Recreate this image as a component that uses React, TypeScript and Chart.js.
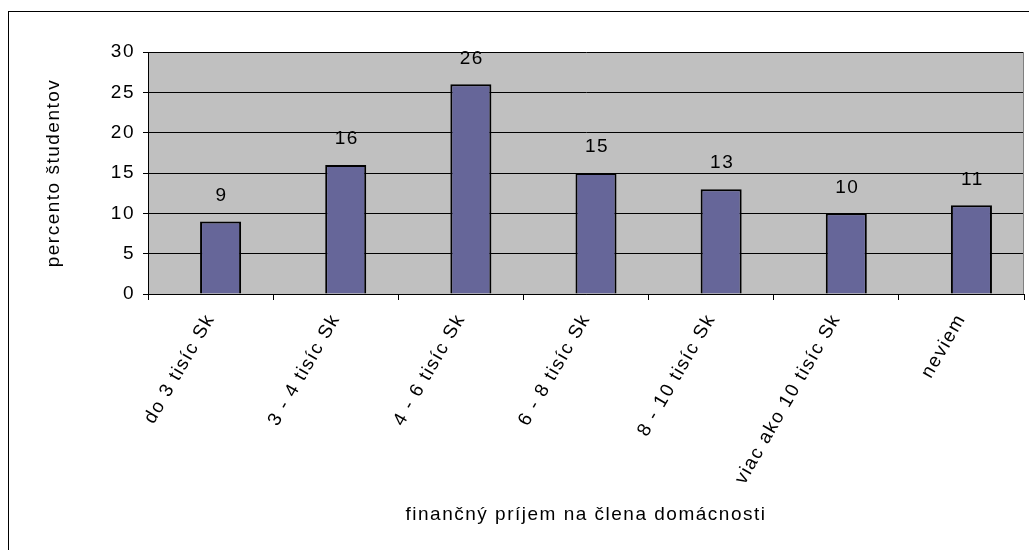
import React, { useEffect, useRef } from "react";
import { Chart, registerables } from "chart.js";

Chart.register(...registerables);

const categories = [
  "do 3 tisíc Sk",
  "3 - 4 tisíc Sk",
  "4 - 6 tisíc Sk",
  "6 - 8 tisíc Sk",
  "8 - 10 tisíc Sk",
  "viac ako 10 tisíc Sk",
  "neviem",
];
const values = [9, 16, 26, 15, 13, 10, 11];
// empty leading series (Excel-style layout shifts the visible bar right of the category centre)
const emptySeries = [null, null, null, null, null, null, null];
const yTicks = [0, 5, 10, 15, 20, 25, 30];
const xTitle = "finančný príjem na člena domácnosti";
const yTitle = "percento študentov";

const FONT = "'Liberation Sans', Arial, sans-serif";
const SPACING = "1.5px";
const FS = 19;

const framePlugin = {
  id: "frame",
  beforeInit(chart: any) {
    chart.ctx.letterSpacing = SPACING;
  },
  beforeDraw(chart: any) {
    const { ctx, chartArea } = chart;
    ctx.letterSpacing = SPACING;
    ctx.save();
    ctx.fillStyle = "#ffffff";
    ctx.fillRect(0, 0, chart.width, chart.height);
    ctx.strokeStyle = "#000000";
    ctx.lineWidth = 1;
    ctx.strokeRect(8.5, 11.5, chart.width + 10, chart.height + 10);
    ctx.fillStyle = "#C0C0C0";
    ctx.fillRect(chartArea.left, chartArea.top, chartArea.right - chartArea.left, chartArea.bottom - chartArea.top);
    ctx.restore();
  },
  afterDatasetsDraw(chart: any) {
    const { ctx, chartArea } = chart;
    ctx.save();
    ctx.strokeStyle = "#808080";
    ctx.lineWidth = 1;
    ctx.beginPath();
    ctx.moveTo(Math.round(chartArea.right) - 0.5, chartArea.top);
    ctx.lineTo(Math.round(chartArea.right) - 0.5, chartArea.bottom);
    ctx.stroke();
    const meta = chart.getDatasetMeta(1);
    ctx.fillStyle = "#000000";
    ctx.font = `${FS}px ${FONT}`;
    ctx.textAlign = "center";
    ctx.textBaseline = "middle";
    meta.data.forEach((bar: any, i: number) => {
      ctx.fillText(String(values[i]), bar.x + 1, bar.y - 26);
    });
    ctx.restore();
  },
};

export default function App() {
  const ref = useRef<HTMLCanvasElement>(null);
  useEffect(() => {
    document.body.style.margin = "0";
    const chart = new Chart(ref.current!, {
      type: "bar",
      data: {
        labels: categories,
        datasets: [
          {
            data: emptySeries,
            backgroundColor: "#666699",
            categoryPercentage: 0.32,
            barPercentage: 2.05,
          },
          {
            data: values,
            backgroundColor: "#666699",
            borderColor: "#000000",
            borderWidth: 2,
            categoryPercentage: 0.32,
            barPercentage: 2.05,
          },
        ],
      },
      options: {
        animation: false,
        responsive: false,
        events: [],
        layout: { padding: { top: 52, left: 38, right: 5, bottom: 20 } },
        plugins: { legend: { display: false }, tooltip: { enabled: false }, title: { display: false } },
        scales: {
          x: {
            offset: true,
            grid: {
              offset: true,
              drawOnChartArea: false,
              drawTicks: true,
              tickLength: 6,
              color: "#000000",
            },
            border: { color: "#000000", width: 1 },
            ticks: {
              color: "#000000",
              font: { family: FONT, size: FS },
              minRotation: 60,
              maxRotation: 60,
              padding: 10,
              autoSkip: false,
            },
            title: {
              display: true,
              text: xTitle,
              color: "#000000",
              font: { family: FONT, size: FS },
              padding: { top: 4, bottom: 4 },
            },
            afterFit(scale: any) {
              scale.height = 236;
            },
          },
          y: {
            min: 0,
            max: 30,
            afterBuildTicks(scale: any) {
              scale.ticks = yTicks.map((v) => ({ value: v }));
            },
            grid: { color: "#000000", tickLength: 5, drawTicks: true },
            border: { color: "#000000", width: 1 },
            ticks: {
              color: "#000000",
              font: { family: FONT, size: FS },
              padding: 8,
            },
            title: {
              display: true,
              text: yTitle,
              color: "#000000",
              font: { family: FONT, size: FS },
              padding: { top: 4, bottom: 4 },
            },
            afterFit(scale: any) {
              scale.width = 110;
            },
          },
        },
      },
      plugins: [framePlugin],
    });
    return () => chart.destroy();
  }, []);
  return <canvas ref={ref} width={1029} height={550} style={{ display: "block" }} />;
}
